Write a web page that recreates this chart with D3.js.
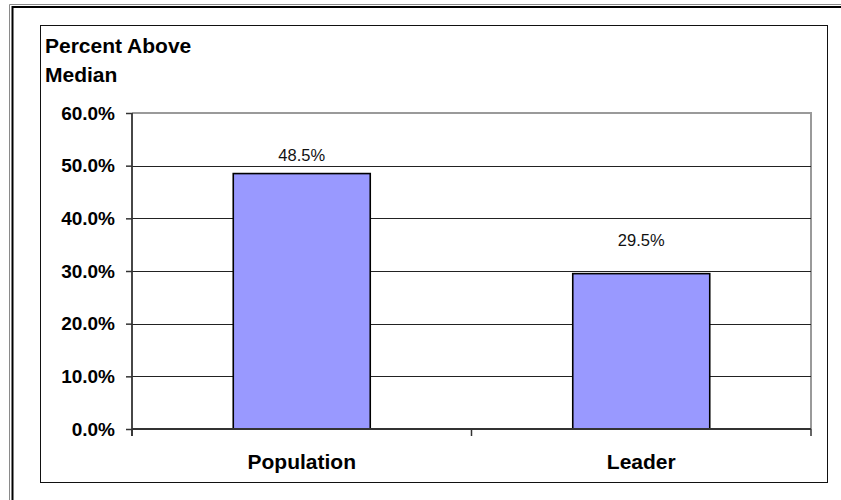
<!DOCTYPE html>
<html>
<head>
<meta charset="utf-8">
<script src="https://cdn.jsdelivr.net/npm/d3@7"></script>
<style>
  html, body { margin: 0; padding: 0; background: #fff; }
  svg { display: block; }
  text { font-family: "Liberation Sans", Arial, sans-serif; }
</style>
</head>
<body>
<svg id="chart" width="841" height="500"></svg>
<script>
// Share of each group above the median
const categories = ["Population", "Leader"];
const values = [0.485, 0.295];
const yTicks = [0, 0.1, 0.2, 0.3, 0.4, 0.5, 0.6];
const titleLines = ["Percent Above", "Median"];

const svg = d3.select("#chart");

// Plot area
const plot = { left: 132, right: 811, top: 113, bottom: 429 };

const y = d3.scaleLinear().domain([0, 0.6]).range([plot.bottom, plot.top]);
const x = d3.scaleBand()
  .domain(categories)
  .range([plot.left, plot.right])
  .paddingInner(0.5965)
  .paddingOuter(0.5965 / 2);

const pct = d3.format(".1%");

// Outer frame (light rule plus heavy black rule)
svg.append("path")
  .attr("d", "M9.5,500 V4.5 H841")
  .attr("fill", "none").attr("stroke", "#8a8a8a").attr("stroke-width", 1);
svg.append("path")
  .attr("d", "M12.5,500 V7 H841")
  .attr("fill", "none").attr("stroke", "#000").attr("stroke-width", 2);

// Chart area box
svg.append("rect")
  .attr("x", 40.5).attr("y", 25.5)
  .attr("width", 787).attr("height", 457)
  .attr("fill", "#fff").attr("stroke", "#111").attr("stroke-width", 1);

// Plot area border (top/right)
svg.append("path")
  .attr("d", `M${plot.left},${plot.top} H${plot.right} V${plot.bottom}`)
  .attr("fill", "none").attr("stroke", "#9a9a9a").attr("stroke-width", 2);

// Horizontal gridlines
svg.append("g")
  .selectAll("line")
  .data(yTicks.filter(t => t > 0 && t < 0.6))
  .join("line")
  .attr("x1", plot.left).attr("x2", plot.right)
  .attr("y1", d => Math.round(y(d)) + 0.5).attr("y2", d => Math.round(y(d)) + 0.5)
  .attr("stroke", "#222").attr("stroke-width", 1);

// Bars
svg.append("g")
  .selectAll("rect")
  .data(categories.map((c, i) => ({ c, v: values[i] })))
  .join("rect")
  .attr("x", d => x(d.c))
  .attr("y", d => y(d.v))
  .attr("width", x.bandwidth())
  .attr("height", d => y(0) - y(d.v))
  .attr("fill", "#9999ff")
  .attr("stroke", "#000")
  .attr("stroke-width", 1.6);

// Value labels above the bars
const labelLift = [13, 28];
svg.append("g")
  .selectAll("text")
  .data(categories.map((c, i) => ({ c, v: values[i], i })))
  .join("text")
  .attr("x", d => x(d.c) + x.bandwidth() / 2)
  .attr("y", d => y(d.v) - labelLift[d.i])
  .attr("text-anchor", "middle")
  .attr("font-size", 16.5)
  .attr("fill", "#111")
  .text(d => pct(d.v));

// Y axis
const yAxis = svg.append("g")
  .attr("transform", `translate(${plot.left},0)`)
  .call(d3.axisLeft(y).tickValues(yTicks).tickFormat(pct).tickSize(6).tickPadding(11));
yAxis.select(".domain").remove();
yAxis.selectAll(".tick line").attr("stroke", "#333").attr("stroke-width", 1.5);
yAxis.selectAll(".tick text")
  .attr("font-family", "'Liberation Sans', Arial, sans-serif")
  .attr("font-size", 19).attr("font-weight", "bold").attr("fill", "#000");

svg.append("line")
  .attr("x1", plot.left).attr("x2", plot.left)
  .attr("y1", plot.top).attr("y2", plot.bottom + 7)
  .attr("stroke", "#333").attr("stroke-width", 1.8);

// X axis baseline and category separators
svg.append("line")
  .attr("x1", plot.left).attr("x2", plot.right)
  .attr("y1", plot.bottom).attr("y2", plot.bottom)
  .attr("stroke", "#333").attr("stroke-width", 1.8);

const bounds = d3.range(categories.length + 1).map(i => plot.left + i * x.step() - (i === 0 ? 0 : 0));
svg.append("g")
  .selectAll("line")
  .data(bounds)
  .join("line")
  .attr("x1", d => d).attr("x2", d => d)
  .attr("y1", plot.bottom).attr("y2", plot.bottom + 7)
  .attr("stroke", "#333").attr("stroke-width", 1.5);

// Category labels
svg.append("g")
  .selectAll("text")
  .data(categories)
  .join("text")
  .attr("x", d => x(d) + x.bandwidth() / 2)
  .attr("y", 469)
  .attr("text-anchor", "middle")
  .attr("font-size", 21)
  .attr("font-weight", "bold")
  .attr("fill", "#000")
  .text(d => d);

// Axis title
svg.append("text")
  .attr("x", 45).attr("y", 53)
  .attr("font-size", 21).attr("font-weight", "bold").attr("fill", "#000")
  .selectAll("tspan")
  .data(titleLines)
  .join("tspan")
  .attr("x", 45)
  .attr("dy", (d, i) => i === 0 ? 0 : 29)
  .text(d => d);
</script>
</body>
</html>
